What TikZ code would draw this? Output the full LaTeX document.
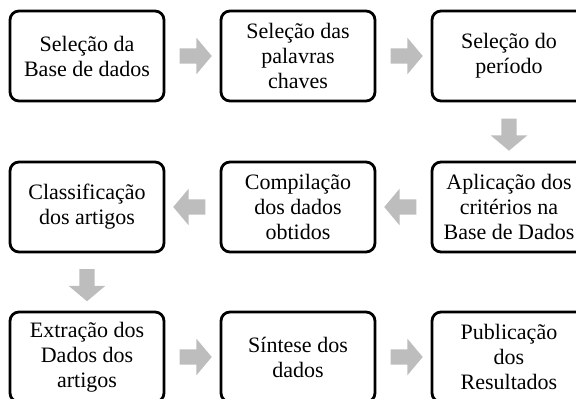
\documentclass[tikz,border=0pt]{standalone}
\usepackage{fontspec}
\setmainfont{Liberation Serif}
\usepackage{tikz}
\usetikzlibrary{
  positioning,
  calc,
  shapes.arrows
}
\definecolor{setacolor}{HTML}{BDBDBD}

\begin{document}
\begin{tikzpicture}[
  x=1pt, y=-1pt,
  etapa/.style={draw, line width=2.8pt, rounded corners=9pt, fill=white,
               minimum width=154pt, minimum height=90pt, inner sep=2pt,
               font=\fontsize{22}{25}\selectfont, align=center},
  seta/.style={single arrow, draw=none, fill=setacolor, inner sep=7.5pt,
               minimum height=32pt,
               single arrow head extend=10.5pt, single arrow tip angle=100},
]
  \clip (0,0) rectangle (576,399);

  \node[etapa] (base)   at (87, 56)   {Seleção da\\Base de dados};
  \node[etapa] (chaves) at (298, 56)  {Seleção das\\palavras\\chaves};
  \node[etapa] (periodo) at (509, 56) {Seleção do\\período};

  \node[etapa] (criterios) at (509, 207)  {Aplicação dos\\critérios na\\Base de Dados};
  \node[etapa] (compila)   at (298, 207)  {Compilação\\dos dados\\obtidos};
  \node[etapa] (classif)   at (87, 207)   {Classificação\\dos artigos};

  \node[etapa] (extrai)  at (87, 357)  {Extração dos\\Dados dos\\artigos};
  \node[etapa] (sintese) at (298, 357) {Síntese dos\\dados};
  \node[etapa] (publica) at (509, 357) {Publicação\\dos\\Resultados};

  \node[seta] (s1) at ($(base.east)!0.5!(chaves.west)$) {};
  \node[seta] (s2) at ($(chaves.east)!0.5!(periodo.west)$) {};
  \node[seta, shape border rotate=270] (s3) at ($(periodo.south)!0.5!(criterios.north)$) {};
  \node[seta, shape border rotate=180] (s4) at ($(criterios.west)!0.5!(compila.east)$) {};
  \node[seta, shape border rotate=180] (s5) at ($(compila.west)!0.5!(classif.east)$) {};
  \node[seta, shape border rotate=270] (s6) at ($(classif.south)!0.5!(extrai.north)$) {};
  \node[seta] (s7) at ($(extrai.east)!0.5!(sintese.west)$) {};
  \node[seta] (s8) at ($(sintese.east)!0.5!(publica.west)$) {};
\end{tikzpicture}
\end{document}
